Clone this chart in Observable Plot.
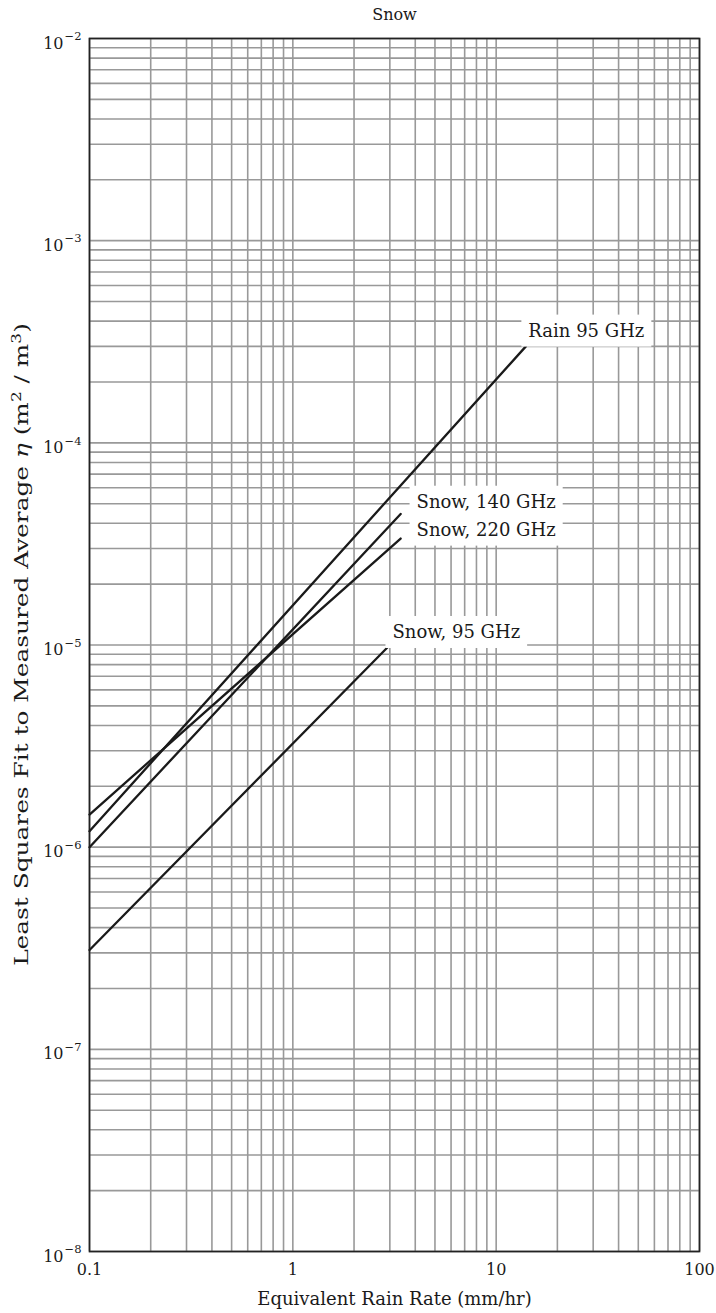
<!DOCTYPE html>
<html>
<head>
<meta charset="utf-8">
<script src="https://cdn.jsdelivr.net/npm/d3@7"></script>
<script src="https://cdn.jsdelivr.net/npm/@observablehq/plot@0.6"></script>
<style>
  html, body { margin: 0; padding: 0; background: #fff; }
  svg { display: block; }
</style>
</head>
<body>
<div id="chart"></div>
<script>
// ---- data ----
const seriesNames = ["Rain 95 GHz", "Snow, 140 GHz", "Snow, 220 GHz", "Snow, 95 GHz"];
const startRate = [0.1, 0.1, 0.1, 0.1];
const startEta  = [1.2e-6, 1.0e-6, 1.45e-6, 3.1e-7];
const endRate   = [14.0, 3.39, 3.39, 3.0];
const endEta    = [3.0e-4, 4.45e-5, 3.36e-5, 1.0e-5];
const labelRate = [14.4, 4.06, 4.06, 3.09];
const labelEta  = [3.56e-4, 5.07e-5, 3.69e-5, 1.15e-5];

const xTickValues = [0.1, 1, 10, 100];
const xTickLabels = ["0.1", "1", "10", "100"];
const yTickExponents = [-2, -3, -4, -5, -6, -7, -8];
const mantissas = [1, 2, 3, 4, 5, 6, 7, 8, 9];
const xDecades = [0.1, 1, 10];
const yDecades = [1e-8, 1e-7, 1e-6, 1e-5, 1e-4, 1e-3];

const title = "Snow";
const xTitle = "Equivalent Rain Rate (mm/hr)";
const yTitle = "Least Squares Fit to Measured Average η (m² / m³)";

// ---- tables built from the arrays ----
const lines = seriesNames.flatMap((s, i) => [
  {series: s, rate: startRate[i], eta: startEta[i]},
  {series: s, rate: endRate[i], eta: endEta[i]}
]);
const labels = seriesNames.map((s, i) => ({text: s, rate: labelRate[i], eta: labelEta[i]}));
const xGrid = xDecades.flatMap(d => mantissas.map(m => m * d)).concat([100]);
const yGrid = yDecades.flatMap(d => mantissas.map(m => m * d)).concat([1e-2]);
const yTicks = yTickExponents.map(e => ({v: Math.pow(10, e), sup: "\u2212" + Math.abs(e)}));
const xTicks = xTickValues.map((v, i) => ({v, t: xTickLabels[i]}));

const font = "'DejaVu Serif', 'Liberation Serif', serif";
const ink = "#1a1a1a";
const marginTop = 38, marginBottom = 62, H = 1313;

const svg = Plot.plot({
  width: 716,
  height: H,
  marginLeft: 89,
  marginRight: 17,
  marginTop,
  marginBottom,
  style: {fontFamily: font, background: "#fff", color: ink, overflow: "visible"},
  x: {type: "log", domain: [0.1, 100], axis: null},
  y: {type: "log", domain: [1e-8, 1e-2], axis: null},
  marks: [
    Plot.ruleX(xGrid, {x: d => d, stroke: "#999", strokeWidth: 1.6}),
    Plot.ruleY(yGrid, {y: d => d, stroke: "#999", strokeWidth: 1.6}),
    Plot.frame({stroke: "#222", strokeWidth: 1.7}),
    Plot.line(lines, {x: "rate", y: "eta", z: "series", stroke: ink, strokeWidth: 2.3}),
    // x tick labels
    Plot.text(xTicks, {x: "v", text: "t", frameAnchor: "bottom", dy: 18, fontSize: 16, fill: ink, lineAnchor: "middle"}),
    // y tick labels: "10" + superscript exponent
    Plot.text(yTicks, {y: "v", text: () => "10", frameAnchor: "left", dx: -26, dy: 5, textAnchor: "end", fontSize: 16, fill: ink, lineAnchor: "middle"}),
    Plot.text(yTicks, {y: "v", text: "sup", frameAnchor: "left", dx: -25, dy: -2, textAnchor: "start", fontSize: 11.5, fill: ink, lineAnchor: "middle"}),
    // titles
    Plot.text([title], {frameAnchor: "top", dy: -24, fontSize: 16, fill: ink, lineAnchor: "middle"}),
    Plot.text([xTitle], {frameAnchor: "bottom", dy: 48, fontSize: 18, fill: ink, lineAnchor: "middle"}),
    Plot.text([yTitle], {frameAnchor: "left", dx: -68, rotate: -90, fontSize: 19, fill: ink, lineAnchor: "middle"}),
    // series labels
    Plot.text(labels, {x: "rate", y: "eta", text: "text", textAnchor: "start", lineAnchor: "middle", fontSize: 18, fill: ink})
  ]
});
document.getElementById("chart").append(svg);

// ---- white boxes behind the series labels ----
const root = svg.getBoundingClientRect();
const labelNodes = Array.from(svg.querySelectorAll("text")).filter(n => seriesNames.includes(n.textContent));
if (labelNodes.length) {
  const host = labelNodes[0].parentNode;
  const g = document.createElementNS("http://www.w3.org/2000/svg", "g");
  labelNodes.forEach(n => {
    const r = n.getBoundingClientRect();
    const cy = (r.top + r.bottom) / 2 - root.top;
    const rect = document.createElementNS("http://www.w3.org/2000/svg", "rect");
    rect.setAttribute("x", r.left - root.left - 7);
    rect.setAttribute("y", cy - 16);
    rect.setAttribute("width", r.width + 14);
    rect.setAttribute("height", 32);
    rect.setAttribute("fill", "#fff");
    g.appendChild(rect);
  });
  host.parentNode.insertBefore(g, host);
}

// ---- rich y-axis title (italic eta, real superscripts), stretched and re-centred ----
const yNode = Array.from(svg.querySelectorAll("text")).find(n => n.textContent === yTitle);
if (yNode) {
  const NS = "http://www.w3.org/2000/svg";
  yNode.textContent = "";
  const parts = [
    {t: "Least Squares Fit to Measured Average "},
    {t: "η", italic: true},
    {t: " (m"},
    {t: "2", sup: true},
    {t: " / m", after: true},
    {t: "3", sup: true},
    {t: ")", after: true}
  ];
  parts.forEach(p => {
    const ts = document.createElementNS(NS, "tspan");
    ts.textContent = p.t;
    if (p.italic) ts.setAttribute("font-style", "italic");
    if (p.sup) { ts.setAttribute("dy", "-7"); ts.setAttribute("font-size", "13"); }
    if (p.after) ts.setAttribute("dy", "7");
    yNode.appendChild(ts);
  });
  const prev = yNode.getAttribute("transform") || "";
  const r0 = yNode.getBoundingClientRect();
  const sx = 643 / r0.height;
  yNode.setAttribute("transform", `${prev} scale(${sx},1)`);
  const r = yNode.getBoundingClientRect();
  const cy = (r.top + r.bottom) / 2 - root.top;
  const target = marginTop + (H - marginTop - marginBottom) / 2;
  yNode.setAttribute("transform", `translate(0,${target - cy}) ${prev} scale(${sx},1)`);
}
</script>
</body>
</html>
